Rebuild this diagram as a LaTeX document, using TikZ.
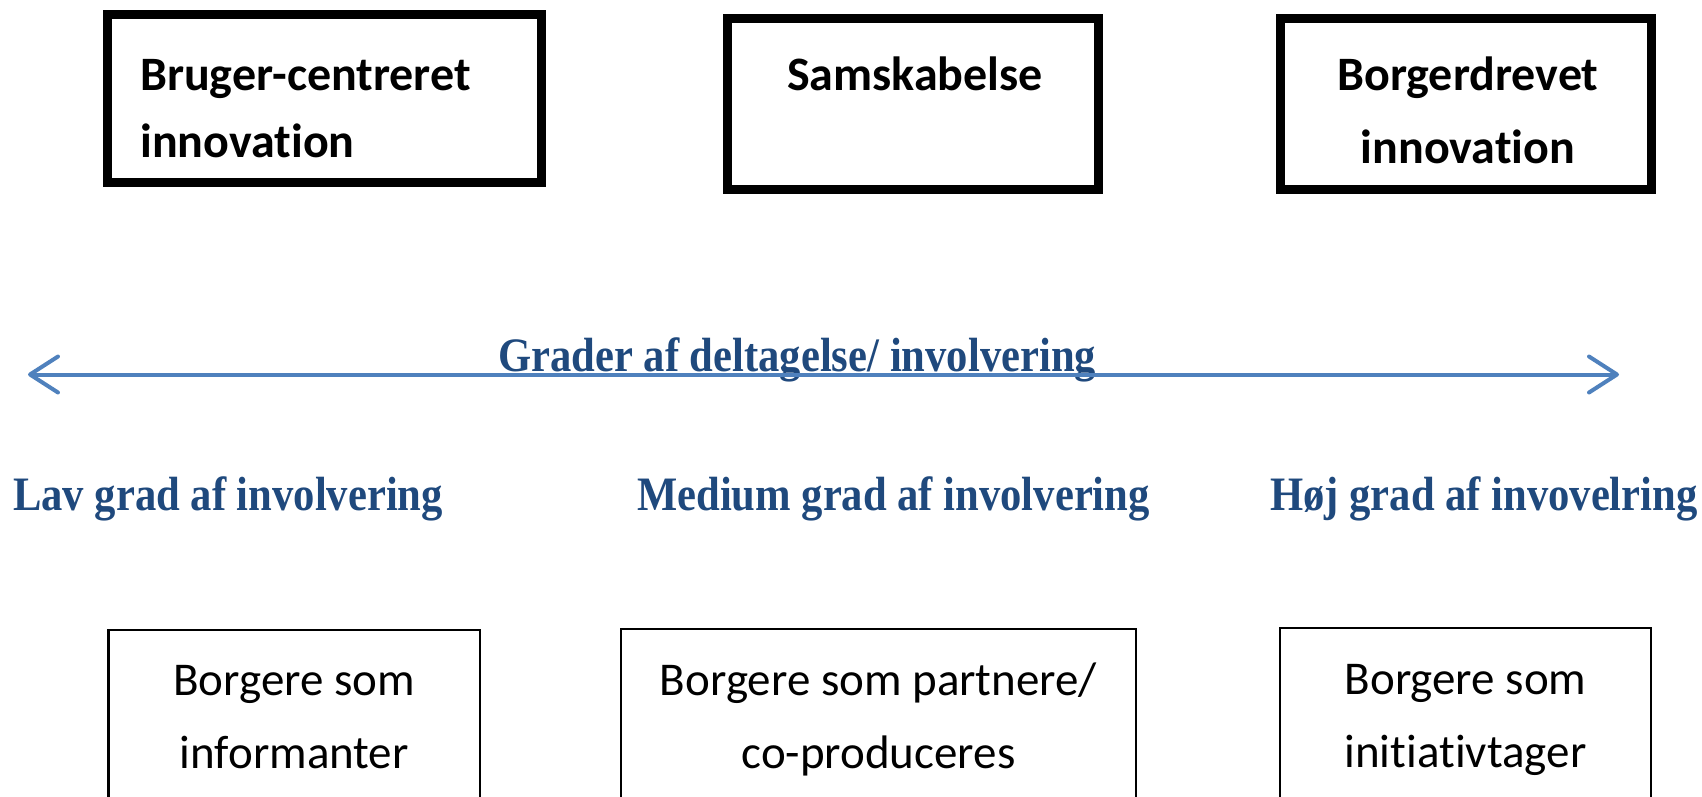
\documentclass[tikz,border=0pt]{standalone}
\usepackage{fontspec}
\setmainfont{Carlito}[Ligatures={NoCommon,NoContextual}]
\newfontfamily\headfont[FakeStretch=0.888]{Liberation Serif}
\usetikzlibrary{arrows.meta}
\definecolor{headblue}{RGB}{31,73,125}
\definecolor{arrowblue}{RGB}{79,129,189}
\begin{document}
\begin{tikzpicture}[x=1pt,y=-1pt,
  topbox/.style={draw=black,line width=9pt,inner sep=0pt,outer sep=0pt},
  lowbox/.style={draw=black,line width=2.2pt,inner sep=0pt,outer sep=0pt},
  toptext/.style={font=\fontsize{48}{67}\selectfont\bfseries,inner sep=0pt},
  lowtext/.style={font=\fontsize{47}{73}\selectfont,inner sep=0pt,align=center,anchor=base},
  headtext/.style={font=\headfont\bfseries\fontsize{48}{58}\selectfont,text=headblue,inner sep=0pt,anchor=base west},
  scalearrow/.style={draw=arrowblue,line width=4pt,
    {Straight Barb[length=28pt,width=36pt,round]}-{Straight Barb[length=28pt,width=36pt,round]}}
]
\useasboundingbox (0,0) rectangle (1702,796);
\clip (0,0) rectangle (1702,796);
% top boxes
\node[topbox,minimum width=434pt,minimum height=168.5pt] (b1) at (324,98.25) {};
\node[topbox,minimum width=370.5pt,minimum height=170.5pt] (b2) at (912.75,103.75) {};
\node[topbox,minimum width=370.5pt,minimum height=170.5pt] (b3) at (1465.75,103.75) {};
\node[toptext,anchor=base west,align=left] (t1) at (140,157) {Bruger-centreret\\innovation};
\node[toptext,anchor=base] (t2) at (915,90) {Samskabelse};
\node[toptext,anchor=base,align=center,font=\fontsize{48}{73}\selectfont\bfseries] (t3) at (1468,163) {Borgerdrevet\\innovation};
% scale
\node[headtext] (grader) at (498,371) {Grader af deltagelse/ involvering};
\coordinate (aL) at (28,374.5);
\coordinate (aR) at (1619,374.5);
\draw[scalearrow] (aL) -- (aR);
% levels
\node[headtext] (lav) at (13,510) {Lav grad af involvering};
\node[headtext] (med) at (637,510) {Medium grad af involvering};
\node[headtext] (hoj) at (1270,510) {Høj grad af invovelring};
% bottom boxes
\node[lowbox,minimum width=371.5pt,minimum height=200pt] (c1) at (294.25,730) {};
\node[lowbox,minimum width=515pt,minimum height=200pt] (c2) at (878.5,729) {};
\node[lowbox,minimum width=371pt,minimum height=200pt] (c3) at (1465.5,728) {};
\node[lowtext] (u1) at (294.25,768) {Borgere som\\informanter};
\node[lowtext] (u2) at (878.5,768) {Borgere som partnere/\\co-produceres};
\node[lowtext] (u3) at (1465.5,767) {Borgere som\\initiativtager};
\end{tikzpicture}
\end{document}
